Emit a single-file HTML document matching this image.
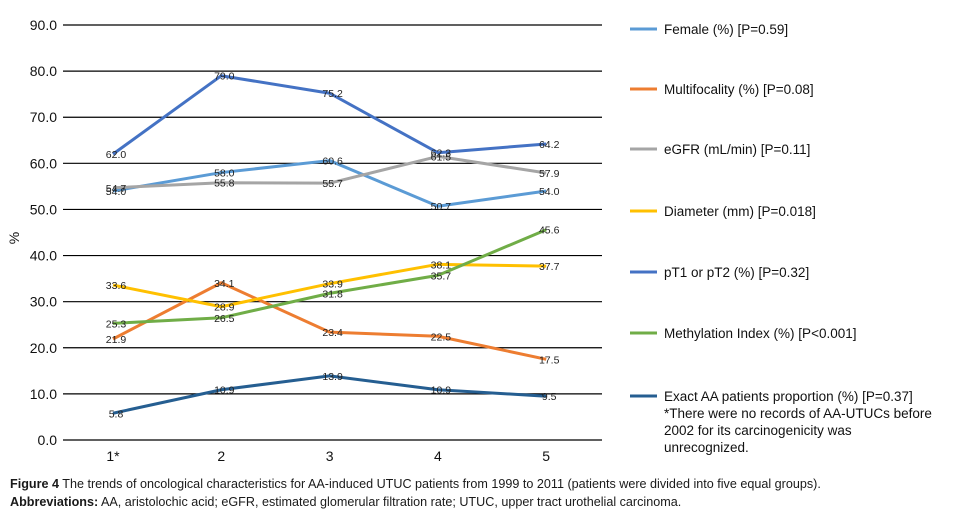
<!DOCTYPE html>
<html><head><meta charset="utf-8"><style>
body{margin:0;background:#fff;width:961px;height:514px;overflow:hidden;font-family:"Liberation Sans",sans-serif}
svg{position:absolute;left:0;top:0}
.cap{position:absolute;left:10px;font-size:12.6px;color:#1a1a1a;white-space:nowrap}
</style></head><body>
<svg id="chart" width="961" height="470"></svg>
<div class="cap" style="top:477px"><b>Figure 4</b> The trends of oncological characteristics for AA-induced UTUC patients from 1999 to 2011 (patients were divided into five equal groups).</div>
<div class="cap" style="top:495px"><b>Abbreviations:</b> AA, aristolochic acid; eGFR, estimated glomerular filtration rate; UTUC, upper tract urothelial carcinoma.</div>
<script>
const categories = ["1*","2","3","4","5"];
const yTicks = [0,10,20,30,40,50,60,70,80,90];
const female = [54.0,58.0,60.6,50.7,54.0];
const multifocality = [21.9,34.1,23.4,22.5,17.5];
const egfr = [54.7,55.8,55.7,61.5,57.9];
const diameter = [33.6,28.9,33.9,38.1,37.7];
const pt = [62.0,79.0,75.2,62.3,64.2];
const methylation = [25.3,26.5,31.8,35.7,45.6];
const exactAA = [5.8,10.9,13.9,10.9,9.5];
const seriesNames = ["Female (%) [P=0.59]","Multifocality (%) [P=0.08]","eGFR (mL/min) [P=0.11]","Diameter (mm) [P=0.018]","pT1 or pT2 (%) [P=0.32]","Methylation Index (%) [P<0.001]","Exact AA patients proportion (%) [P=0.37]"];
const NS="http://www.w3.org/2000/svg";
const svg=document.getElementById('chart');
function y(v){return 440-v*(415/90);}
function x(i){return 113+i*108.3;}
function mk(t,a,txt){const e=document.createElementNS(NS,t);for(const k in a)e.setAttribute(k,a[k]);if(txt!==undefined)e.textContent=txt;svg.appendChild(e);return e;}
yTicks.forEach(t=>{
  const l=mk('line',{x1:63,x2:602,y1:y(t),y2:y(t),stroke:'#000','stroke-width':1.2});
  
  
  const tx=mk('text',{x:57,y:y(t)+5,'text-anchor':'end','font-size':14,fill:'#111'},t.toFixed(1));
  
  
});
categories.forEach((c,i)=>{
  const tx=mk('text',{x:x(i),y:461,'text-anchor':'middle','font-size':14,fill:'#111'},c);
  
  
});
const yt=mk('text',{x:0,y:0,'font-size':14,fill:'#111',transform:'translate(19,238) rotate(-90)','text-anchor':'middle'},'%');


const all=[female,multifocality,egfr,diameter,pt,methylation,exactAA];
const colors=['#5b9bd5','#ed7d31','#a5a5a5','#ffc000','#4472c4','#70ad47','#255e91'];
const keys=['female','multifocality','egfr','diameter','pt1-pt2','methylation','exact-aa'];
all.forEach((s,k)=>{
  const p=mk('polyline',{points:s.map((v,i)=>x(i)+','+y(v)).join(' '),fill:'none',stroke:colors[k],'stroke-width':3,'stroke-linejoin':'round'});
  
  
});
all.forEach((s,k)=>{
  s.forEach((v,i)=>{
    const t=mk('text',{x:x(i)+3,y:y(v)+4,'text-anchor':'middle','font-size':10.5,fill:'#222'},v.toFixed(1));
    
    
  });
});
const ly=[29,89,149,211,272,333,396];
seriesNames.forEach((n,k)=>{
  const l=mk('line',{x1:630,x2:657,y1:ly[k],y2:ly[k],stroke:colors[k],'stroke-width':3});
  
  
  const t=mk('text',{x:664,y:ly[k]+5,'font-size':13.5,fill:'#111'},n);
  
  
});
["*There were no records of AA-UTUCs before","2002 for its carcinogenicity was","unrecognized."].forEach((s,i)=>{
  const t=mk('text',{x:664,y:418+i*17,'font-size':13.5,fill:'#111'},s);
  
  
});
</script>
</body></html>
